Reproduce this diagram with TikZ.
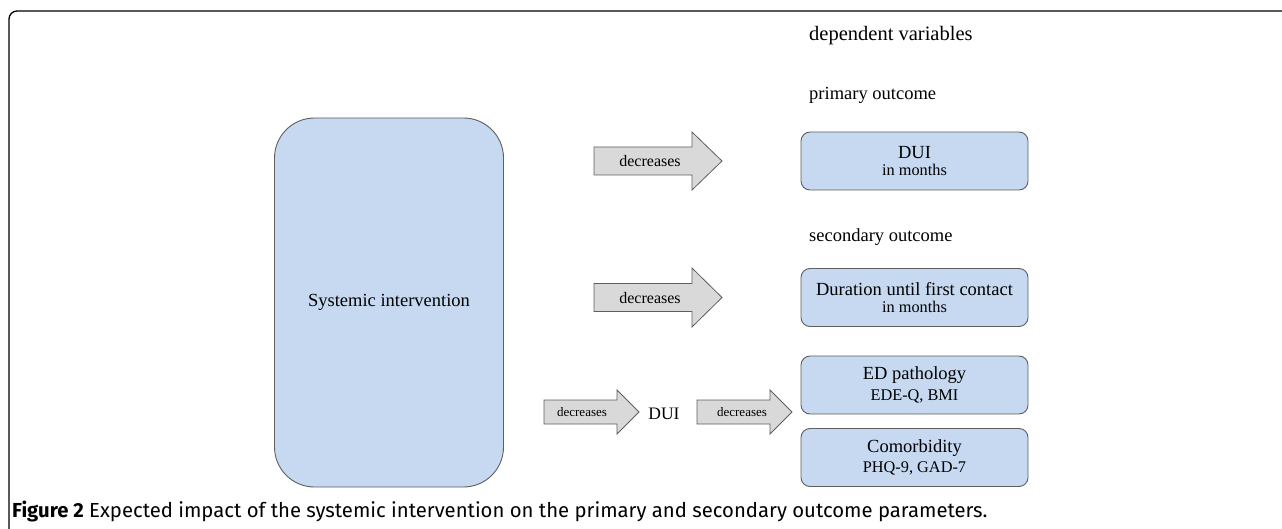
\documentclass[tikz,border=0pt]{standalone}
\usepackage{fontspec}
\setmainfont{Liberation Serif}
\newfontfamily\capfont{Fira Sans}
\usetikzlibrary{calc}
\definecolor{boxblue}{RGB}{198,217,240}
\definecolor{boxline}{RGB}{95,95,95}
\definecolor{arrowgray}{RGB}{217,217,217}
\newcommand{\fs}[1]{\fontsize{#1}{#1}\selectfont}
\begin{document}
\begin{tikzpicture}[x=1pt,y=-1pt,
  bigbox/.style={draw=boxline, fill=boxblue, line width=0.9pt, rounded corners=40pt,
    minimum width=229pt, minimum height=369pt, inner sep=0pt, align=center},
  outbox/.style={draw=boxline, fill=boxblue, line width=0.9pt, rounded corners=9pt,
    minimum width=227pt, minimum height=58pt, inner sep=0pt, align=center},
  blockarrow/.style={draw=boxline, fill=arrowgray, line width=0.8pt},
  lbl/.style={anchor=base west, inner sep=0pt, font=\fs{18.5}},
  arrtext/.style={inner sep=0pt, anchor=base}
]
\useasboundingbox (0,0) rectangle (1282,529);
\fill[white] (0,0) rectangle (1282,529);
% frame
\draw[line width=1.3pt, rounded corners=8pt] (9,530) -- (9,11) -- (1283,11);

% main box
\node[bigbox, font=\fs{18.5}] (sys) at (389,302.5) {Systemic intervention};

% labels
\node[lbl, font=\fs{20.5}] (dep) at (809,41) {dependent variables};
\node[lbl] (prim) at (809,100) {primary outcome};
\node[lbl] (sec) at (809,242) {secondary outcome};

% outcome boxes
\node[outbox] (dui) at (914.5,161) {{\fs{18.5}DUI}\\[5pt]{\fs{16.3}in months}};
\node[outbox] (dur) at (914.5,297.5) {{\fs{18.5}Duration until first contact}\\[5pt]{\fs{16.3}in months}};
\node[outbox] (ed) at (914.5,385) {{\fs{18.5}ED pathology}\\[5pt]{\fs{16.3}EDE-Q, BMI}};
\node[outbox] (com) at (914.5,457.5) {{\fs{18.5}Comorbidity}\\[5pt]{\fs{16.3}PHQ-9, GAD-7}};

% block arrows
\draw[blockarrow] (594,147) -- (692,147) -- (692,132) -- (722,161) -- (692,190) -- (692,175) -- (594,175) -- cycle;
\node[arrtext, font=\fs{16}] (a1) at (650,166.5) {decreases};
\draw[blockarrow] (594,283.5) -- (692,283.5) -- (692,268) -- (722,297.5) -- (692,327) -- (692,311.5) -- (594,311.5) -- cycle;
\node[arrtext, font=\fs{16}] (a2) at (650,303) {decreases};
\draw[blockarrow] (544,400) -- (617,400) -- (617,390) -- (639,412) -- (617,434) -- (617,424) -- (544,424) -- cycle;
\node[arrtext, font=\fs{13}] (a3) at (582,416.5) {decreases};
\node[inner sep=0pt, anchor=base, font=\fs{17.5}] (mdui) at (664,419) {DUI};
\draw[blockarrow] (697,400) -- (770,400) -- (770,390) -- (792,412) -- (770,434) -- (770,424) -- (697,424) -- cycle;
\node[arrtext, font=\fs{13}] (a4) at (742,416.5) {decreases};

% caption
\node[anchor=base west, inner sep=0pt, font=\capfont\fs{20.3}] (cap) at (12,517)
  {\textbf{Figure 2} Expected impact of the systemic intervention on the primary and secondary outcome parameters.};
\end{tikzpicture}
\end{document}
